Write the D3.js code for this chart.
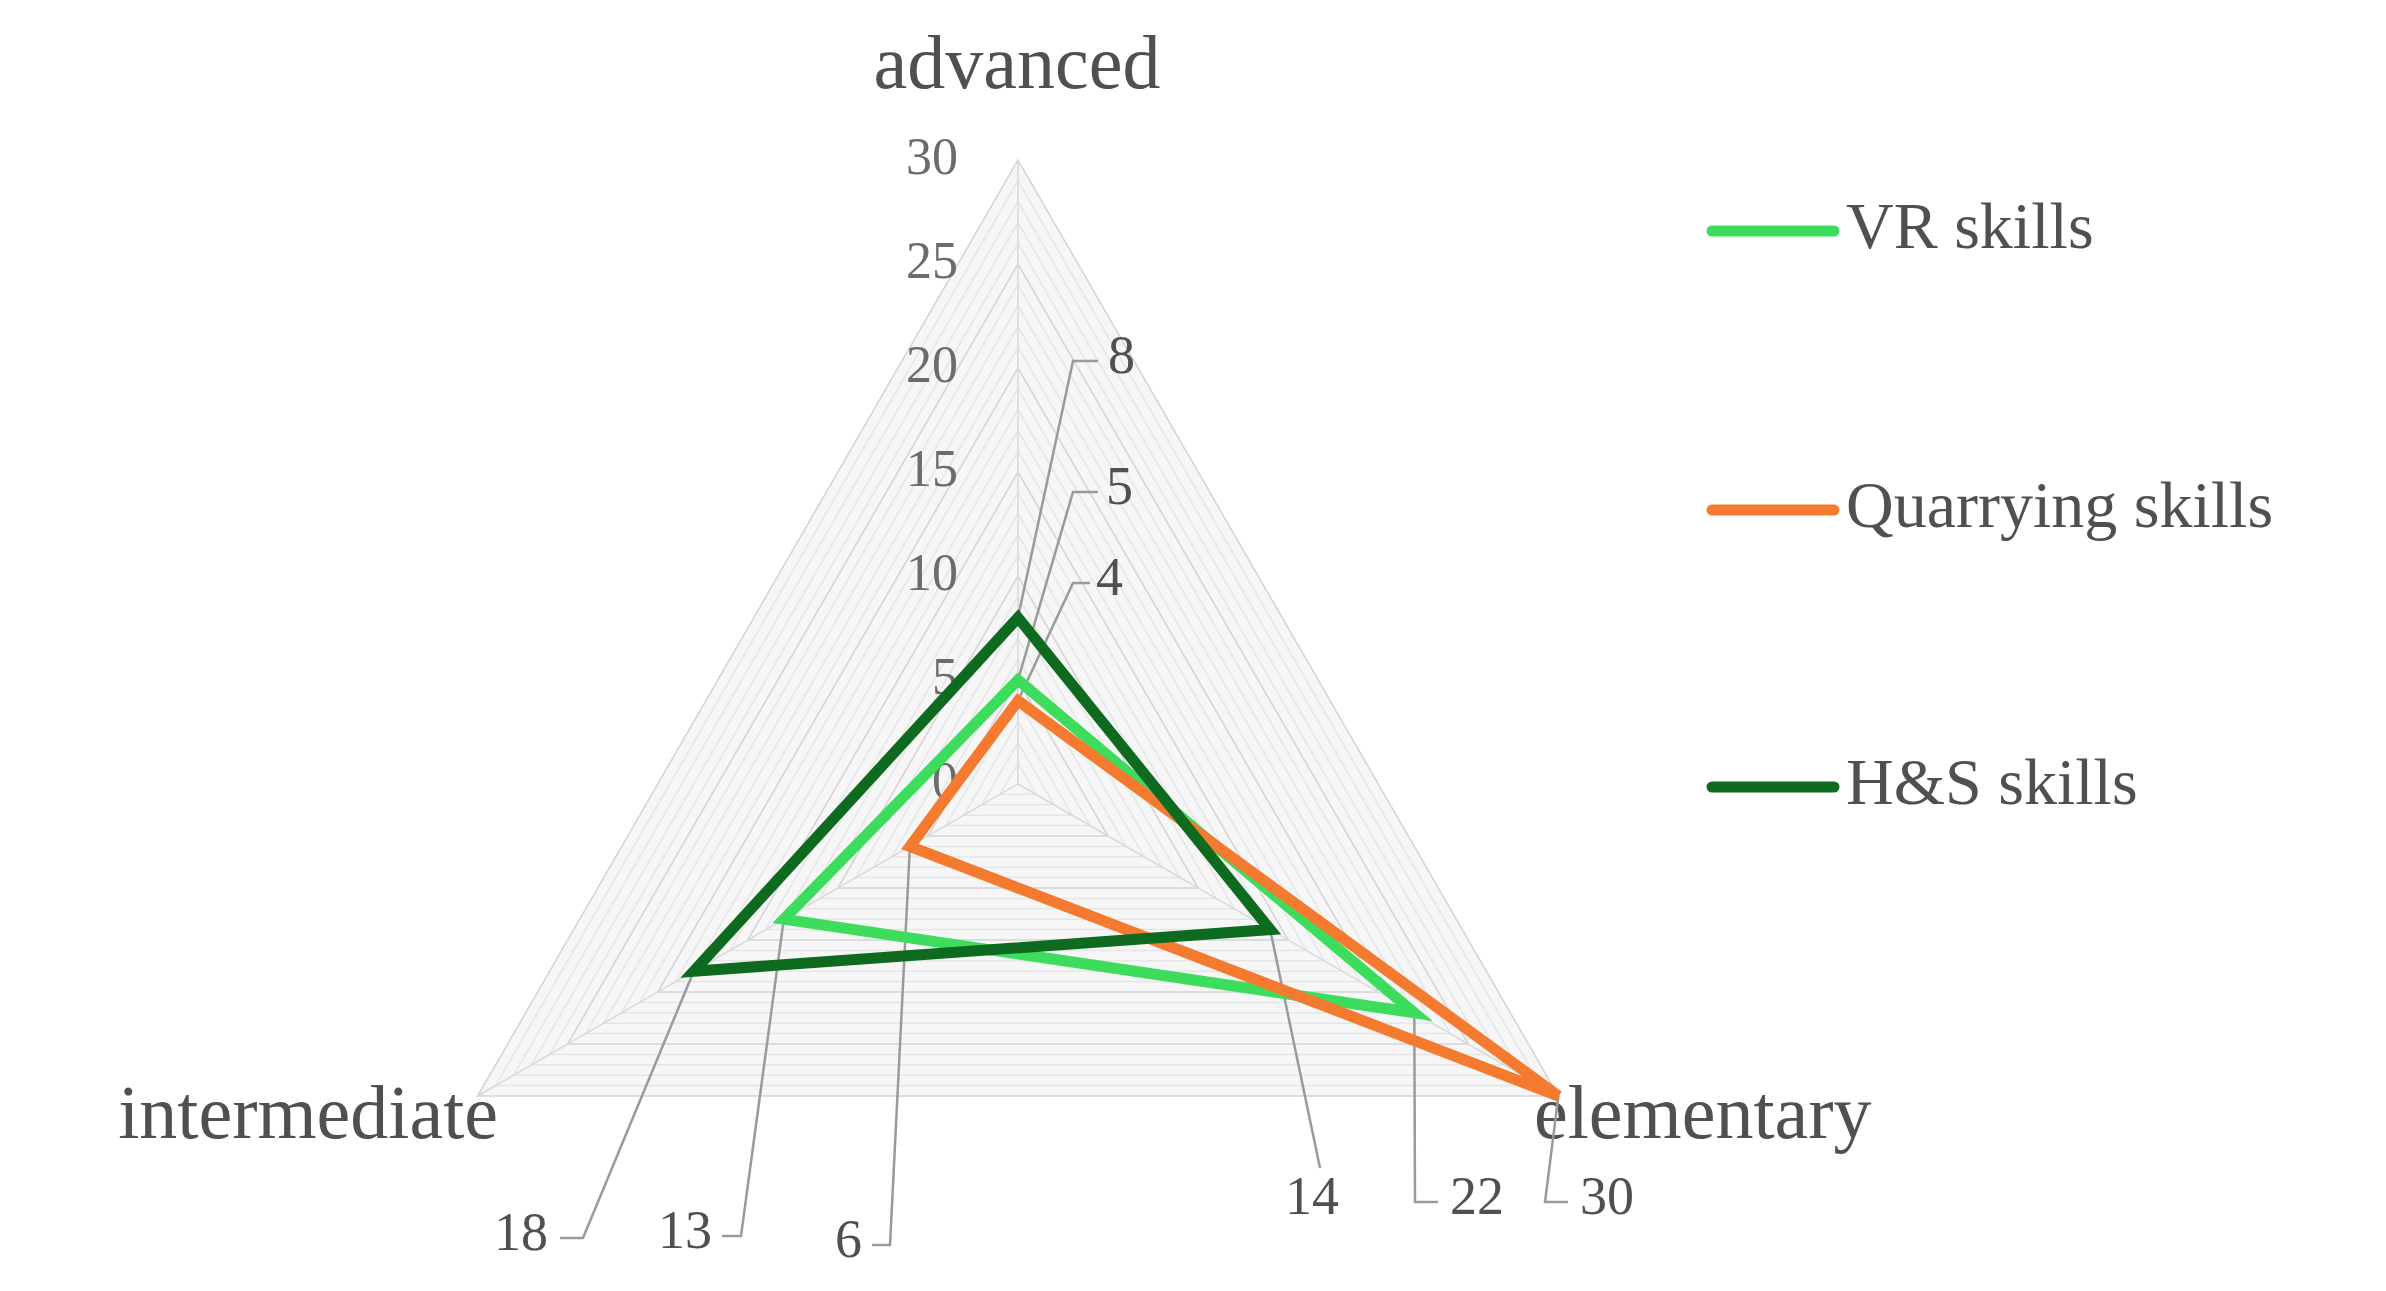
<!DOCTYPE html>
<html><head><meta charset="utf-8">
<script src="https://cdn.jsdelivr.net/npm/d3@7"></script>
<style>body{margin:0;background:#fff}svg{display:block}</style>
</head><body>
<script>
const axes = ["advanced","elementary","intermediate"];
const seriesNames = ["VR skills","Quarrying skills","H&S skills"];
const vrValues = [5,22,13];
const quarryValues = [4,30,6];
const hsValues = [8,14,18];
const tickValues = [0,5,10,15,20,25,30];
const colors = ["#3ddc5c","#f47a30","#0e6a1f"];

const W=2386,H=1291, cx=1018, cy=784, R=624;
const svg=d3.select("body").append("svg").attr("width",W).attr("height",H);
const r=d3.scaleLinear().domain([0,30]).range([0,R]);
const ang=i=>-Math.PI/2+i*2*Math.PI/3;
const pt=(i,v)=>[cx+r(v)*Math.cos(ang(i)), cy+r(v)*Math.sin(ang(i))];
const font="'Liberation Serif','DejaVu Serif',serif";

// background fill + grid
svg.append("polygon").attr("points",[0,1,2].map(i=>pt(i,30).join(",")).join(" "))
  .attr("fill","#f6f6f6").attr("stroke","none");
d3.range(1,31).forEach(v=>{
  svg.append("polygon").attr("points",[0,1,2].map(i=>pt(i,v).join(",")).join(" "))
    .attr("fill","none").attr("stroke",v%5===0?"#d4d4d4":"#e6e6e6").attr("stroke-width",1.5);
});
[0,1,2].forEach(i=>svg.append("line").attr("x1",cx).attr("y1",cy)
  .attr("x2",pt(i,30)[0]).attr("y2",pt(i,30)[1]).attr("stroke","#d9d9d9").attr("stroke-width",1.5));

// tick labels
tickValues.forEach(v=>svg.append("text").attr("x",cx-60).attr("y",cy-r(v)+2)
  .attr("text-anchor","end").attr("dominant-baseline","middle")
  .attr("font-family",font).attr("font-size",52).attr("fill","#6b6b6b").text(v));

// axis labels
svg.append("text").attr("x",1017).attr("y",88).attr("text-anchor","middle")
  .attr("font-family",font).attr("font-size",76).attr("fill","#505050").text(axes[0]);
svg.append("text").attr("x",1534).attr("y",1138).attr("text-anchor","start")
  .attr("font-family",font).attr("font-size",76).attr("fill","#505050").text(axes[1]);
svg.append("text").attr("x",498).attr("y",1138).attr("text-anchor","end")
  .attr("font-family",font).attr("font-size",76).attr("fill","#505050").text(axes[2]);

// leader lines + labels  (series index, axis index, elbow, horizontal end, text pos, anchor)
const labelLayout = [
  [2,0,[1073,361],[1098,361],[1108,361],"start"],
  [0,0,[1073,492],[1098,492],[1106,492],"start"],
  [1,0,[1073,583],[1090,583],[1096,583],"start"],
  [2,2,[583,1238],[560,1238],[548,1238],"end"],
  [0,2,[741,1236],[722,1236],[712,1236],"end"],
  [1,2,[890,1245],[872,1245],[862,1245],"end"],
  [2,1,[1320,1168],null,[1312,1202],"middle"],
  [0,1,[1415,1202],[1438,1202],[1450,1202],"start"],
  [1,1,[1545,1202],[1568,1202],[1580,1202],"start"]
];
const all=[vrValues,quarryValues,hsValues];
labelLayout.forEach(([s,a,e,h,t,anc])=>{
  const p=pt(a,all[s][a]);
  const pts=[p,e]; if(h) pts.push(h);
  svg.append("path").attr("d",d3.line()(pts)).attr("fill","none").attr("stroke","#9a9a9a").attr("stroke-width",2.5);
  svg.append("text").attr("x",t[0]).attr("y",t[1]).attr("text-anchor",anc).attr("dominant-baseline","middle")
    .attr("font-family",font).attr("font-size",54).attr("fill","#505050").text(all[s][a]);
});

// series
all.forEach((vals,s)=>{
  svg.append("path").attr("d",d3.line()(vals.map((v,i)=>pt(i,v)))+"Z")
    .attr("fill","none").attr("stroke",colors[s]).attr("stroke-width",11).attr("stroke-linejoin","miter");
});

// legend
[231,510,787].forEach((y,s)=>{
  svg.append("line").attr("x1",1712).attr("x2",1834).attr("y1",y).attr("y2",y)
    .attr("stroke",colors[s]).attr("stroke-width",11).attr("stroke-linecap","round");
  svg.append("text").attr("x",1846).attr("y",y+2).attr("dominant-baseline","middle")
    .attr("font-family",font).attr("font-size",66).attr("fill","#505050").text(seriesNames[s]);
});
</script>
</body></html>
